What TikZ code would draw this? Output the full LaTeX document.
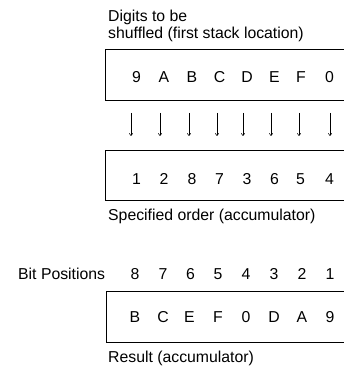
\documentclass[tikz,border=0pt]{standalone}
\usepackage{fontspec}
\setmainfont{Liberation Sans}
\usetikzlibrary{arrows.meta}
\begin{document}
\begin{tikzpicture}[x=1pt,y=-1pt,
  txt/.style={font=\fontsize{15.8}{17}\selectfont, inner sep=0pt},
  lbl/.style={txt, anchor=base west},
  dig/.style={txt, anchor=base},
  boxline/.style={line width=0.8pt},
  arr/.style={line width=0.5pt, -{To[length=3pt,width=4pt]}}]
\useasboundingbox (0,0) rectangle (343,366);
% titles
\node[lbl] (t1) at (108,22) {Digits to be};
\node[lbl] (t2) at (108,39) {shuffled (first stack location)};
\node[lbl] (t3) at (108,220) {Specified order (accumulator)};
\node[lbl] (t4) at (18,279) {Bit Positions};
\node[lbl] (t5) at (108,362) {Result (accumulator)};
% boxes (open on the right edge)
\draw[boxline] (343.5,49) -- (105,49) -- (105,100) -- (343.5,100);
\draw[boxline] (343.5,150) -- (105,150) -- (105,200.5) -- (343.5,200.5);
\draw[boxline] (343.5,291) -- (106,291) -- (106,342) -- (343.5,342);
% row 1
\foreach \t/\x [count=\i] in {9/136.5,A/164,B/192,C/219.5,D/247,E/274.5,F/301,0/329.5}
  \node[dig] (r1\i) at (\x,83) {\t};
% row 2
\foreach \t/\x [count=\i] in {1/136.5,2/164,8/192,7/219.5,3/247,6/274.5,5/300.5,4/329.5}
  \node[dig] (r2\i) at (\x,184) {\t};
% bit positions
\foreach \t/\x [count=\i] in {8/135,7/163,6/190.5,5/218,4/246,3/274,2/302,1/330}
  \node[dig] (bp\i) at (\x,279) {\t};
% result
\foreach \t/\x [count=\i] in {B/135,C/163,E/189.5,F/218,0/246,D/274,A/302,9/330}
  \node[dig] (rs\i) at (\x,322) {\t};
% arrows
\foreach \x [count=\i] in {131,160,189,217,243,271,299,330} {
  \coordinate (as\i) at (\x,113);
  \coordinate (ae\i) at (\x,136);
  \draw[arr] (as\i) -- (ae\i);
}
\end{tikzpicture}
\end{document}
